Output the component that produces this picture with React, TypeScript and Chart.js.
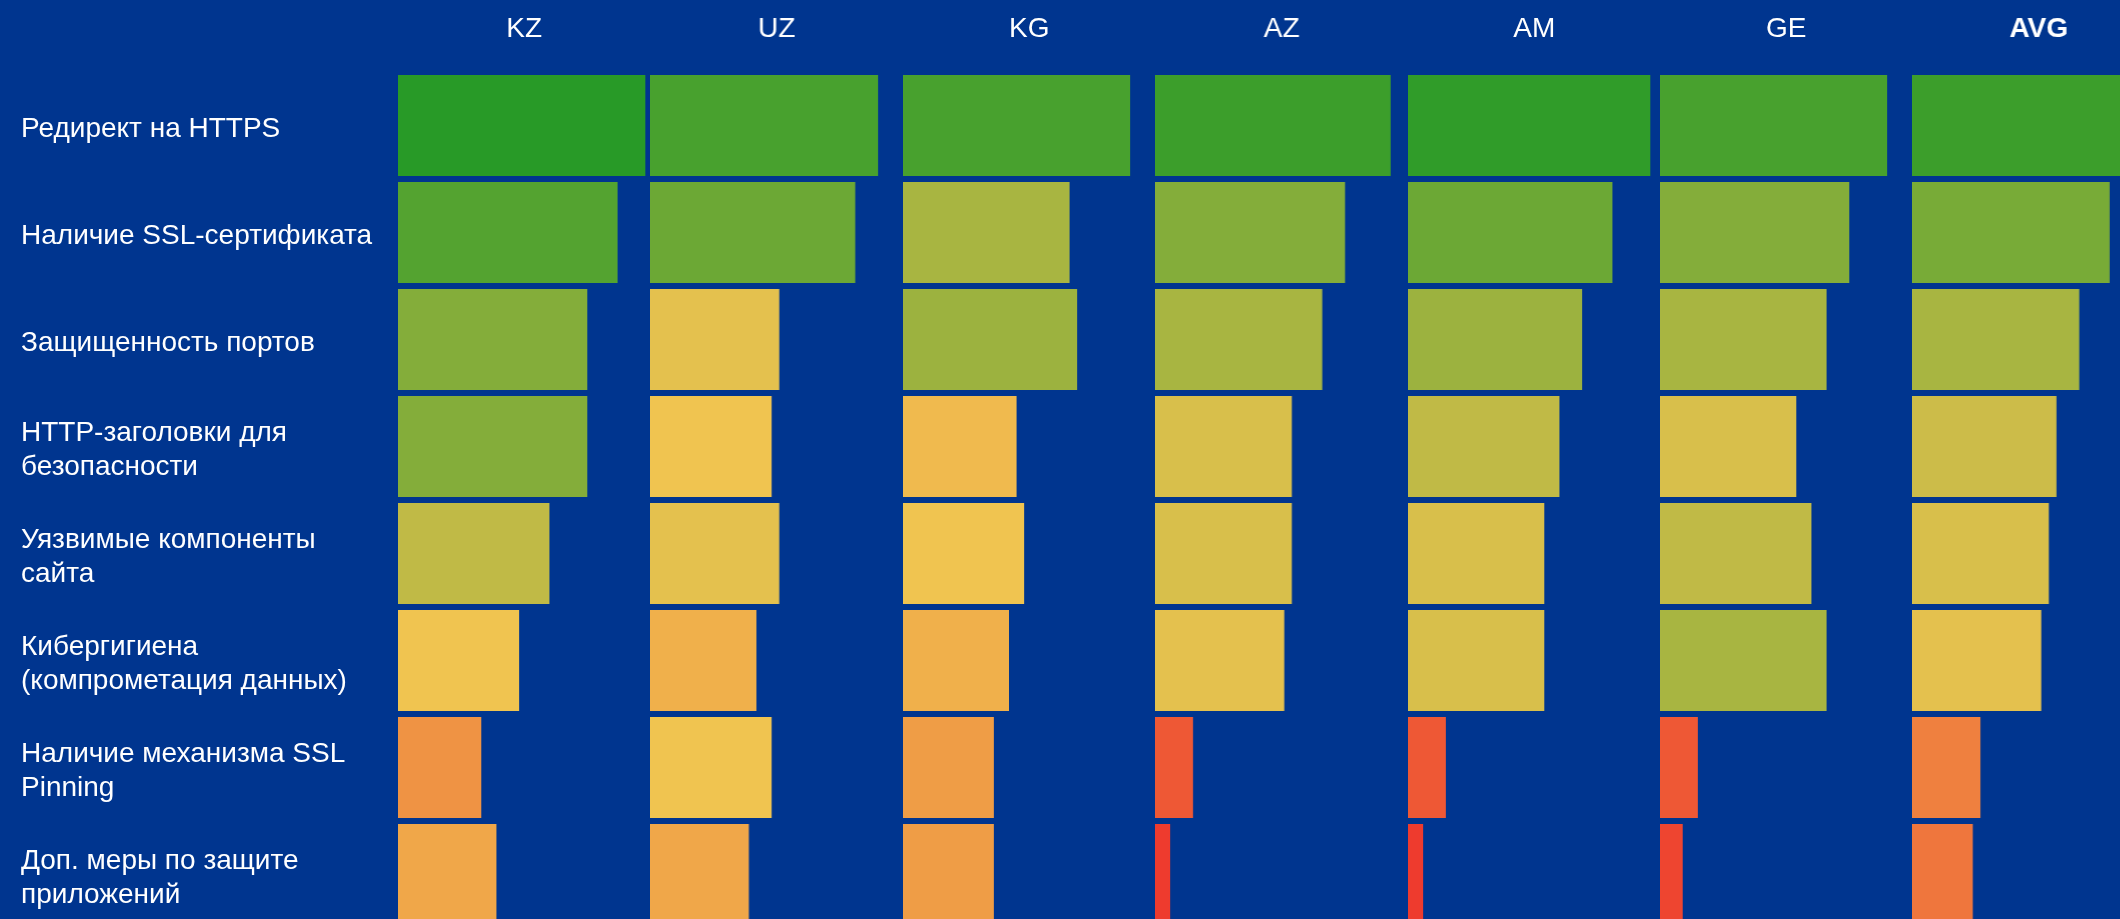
import React, { useEffect, useRef } from 'react';
import { Chart, registerables } from 'chart.js';

Chart.register(...registerables);

// ---- data ----
const countries = ['KZ', 'UZ', 'KG', 'AZ', 'AM', 'GE', 'AVG'];

const criteria = [
  ['Редирект на HTTPS'],
  ['Наличие SSL-сертификата'],
  ['Защищенность портов'],
  ['HTTP-заголовки для', 'безопасности'],
  ['Уязвимые компоненты', 'сайта'],
  ['Кибергигиена', '(компрометация данных)'],
  ['Наличие механизма SSL', 'Pinning'],
  ['Доп. меры по защите', 'приложений'],
];

const kz = [98, 87, 75, 75, 60, 48, 33, 39];
const uz = [90, 81, 51, 48, 51, 42, 48, 39];
const kg = [90, 66, 69, 45, 48, 42, 36, 36];
const az = [93, 75, 66, 54, 54, 51, 15, 6];
const am = [96, 81, 69, 60, 54, 54, 15, 6];
const ge = [90, 75, 66, 54, 60, 66, 15, 9];
const avg = [93, 78, 66, 57, 54, 51, 27, 24];

const seriesValues = [kz, uz, kg, az, am, ge, avg];

// ---- style ----
const BG = '#00358F';
const FONT = '"Liberation Sans", Arial, Helvetica, sans-serif';

const LOW_V = 6;
const MID_V = 48;
const HIGH_V = 98;
const LOW_C = [238, 59, 46];
const MID_C = [240, 196, 80];
const HIGH_C = [40, 154, 39];

function mix(a: number[], b: number[], t: number) {
  const c = a.map((v, i) => Math.round(v + (b[i] - v) * t));
  return `rgb(${c[0]},${c[1]},${c[2]})`;
}

function colorFor(v: number) {
  if (v <= MID_V) {
    const t = Math.max(0, Math.min(1, (v - LOW_V) / (MID_V - LOW_V)));
    return mix(LOW_C, MID_C, t);
  }
  const t = Math.max(0, Math.min(1, (v - MID_V) / (HIGH_V - MID_V)));
  return mix(MID_C, HIGH_C, t);
}

const COL0 = 398;
const COL_W = 252.4;
const LABEL_LEFT = 21;
const H = 930;

function Panel({ index }: { index: number }) {
  const ref = useRef<HTMLCanvasElement | null>(null);

  useEffect(() => {
    const first = index === 0;
    const yScale: any = {
      display: first,
      grid: { display: false },
      border: { display: false },
      ticks: {
        color: '#ffffff',
        crossAlign: 'far',
        padding: 0,
        labelOffset: 4,
        autoSkip: false,
        font: { family: FONT, size: 28, lineHeight: 1.2 },
      },
    };
    if (first) {
      yScale.afterFit = (s: any) => {
        s.width = COL0 - LABEL_LEFT;
        s.paddingTop = 0;
        s.paddingBottom = 0;
      };
    }
    const chart = new Chart(ref.current as HTMLCanvasElement, {
      type: 'bar',
      data: {
        labels: criteria,
        datasets: [
          {
            data: seriesValues[index],
            backgroundColor: (ctx: any) => colorFor(ctx.raw as number),
            borderWidth: 0,
            barPercentage: 1,
            categoryPercentage: 101 / 107,
          },
        ],
      },
      options: {
        indexAxis: 'y',
        animation: false,
        responsive: true,
        maintainAspectRatio: false,
        layout: { padding: { left: first ? LABEL_LEFT : 0, right: 0, top: 0, bottom: 2 } },
        plugins: {
          legend: { display: false },
          tooltip: { enabled: false },
          title: {
            display: true,
            text: countries[index],
            color: '#ffffff',
            fullSize: !first,
            font: {
              family: FONT,
              size: 28,
              weight: index === 6 ? 'bold' : 'normal',
              lineHeight: 1.2,
            },
            padding: { top: 12, bottom: 26.4 },
          },
        },
        scales: {
          x: { display: false, min: 0, max: 100 },
          y: yScale,
        },
      } as any,
    });
    return () => chart.destroy();
  }, [index]);

  const left = index === 0 ? 0 : COL0 + COL_W * index;
  const width = index === 0 ? COL0 + COL_W : COL_W;
  return (
    <div style={{ position: 'absolute', left, top: 0, width, height: H }}>
      <canvas ref={ref} />
    </div>
  );
}

export default function App() {
  return (
    <div
      style={{
        position: 'fixed',
        left: 0,
        top: 0,
        width: '100vw',
        height: '100vh',
        overflow: 'hidden',
        background: BG,
      }}
    >
      {countries.map((_, i) => (
        <Panel key={i} index={i} />
      ))}
    </div>
  );
}
